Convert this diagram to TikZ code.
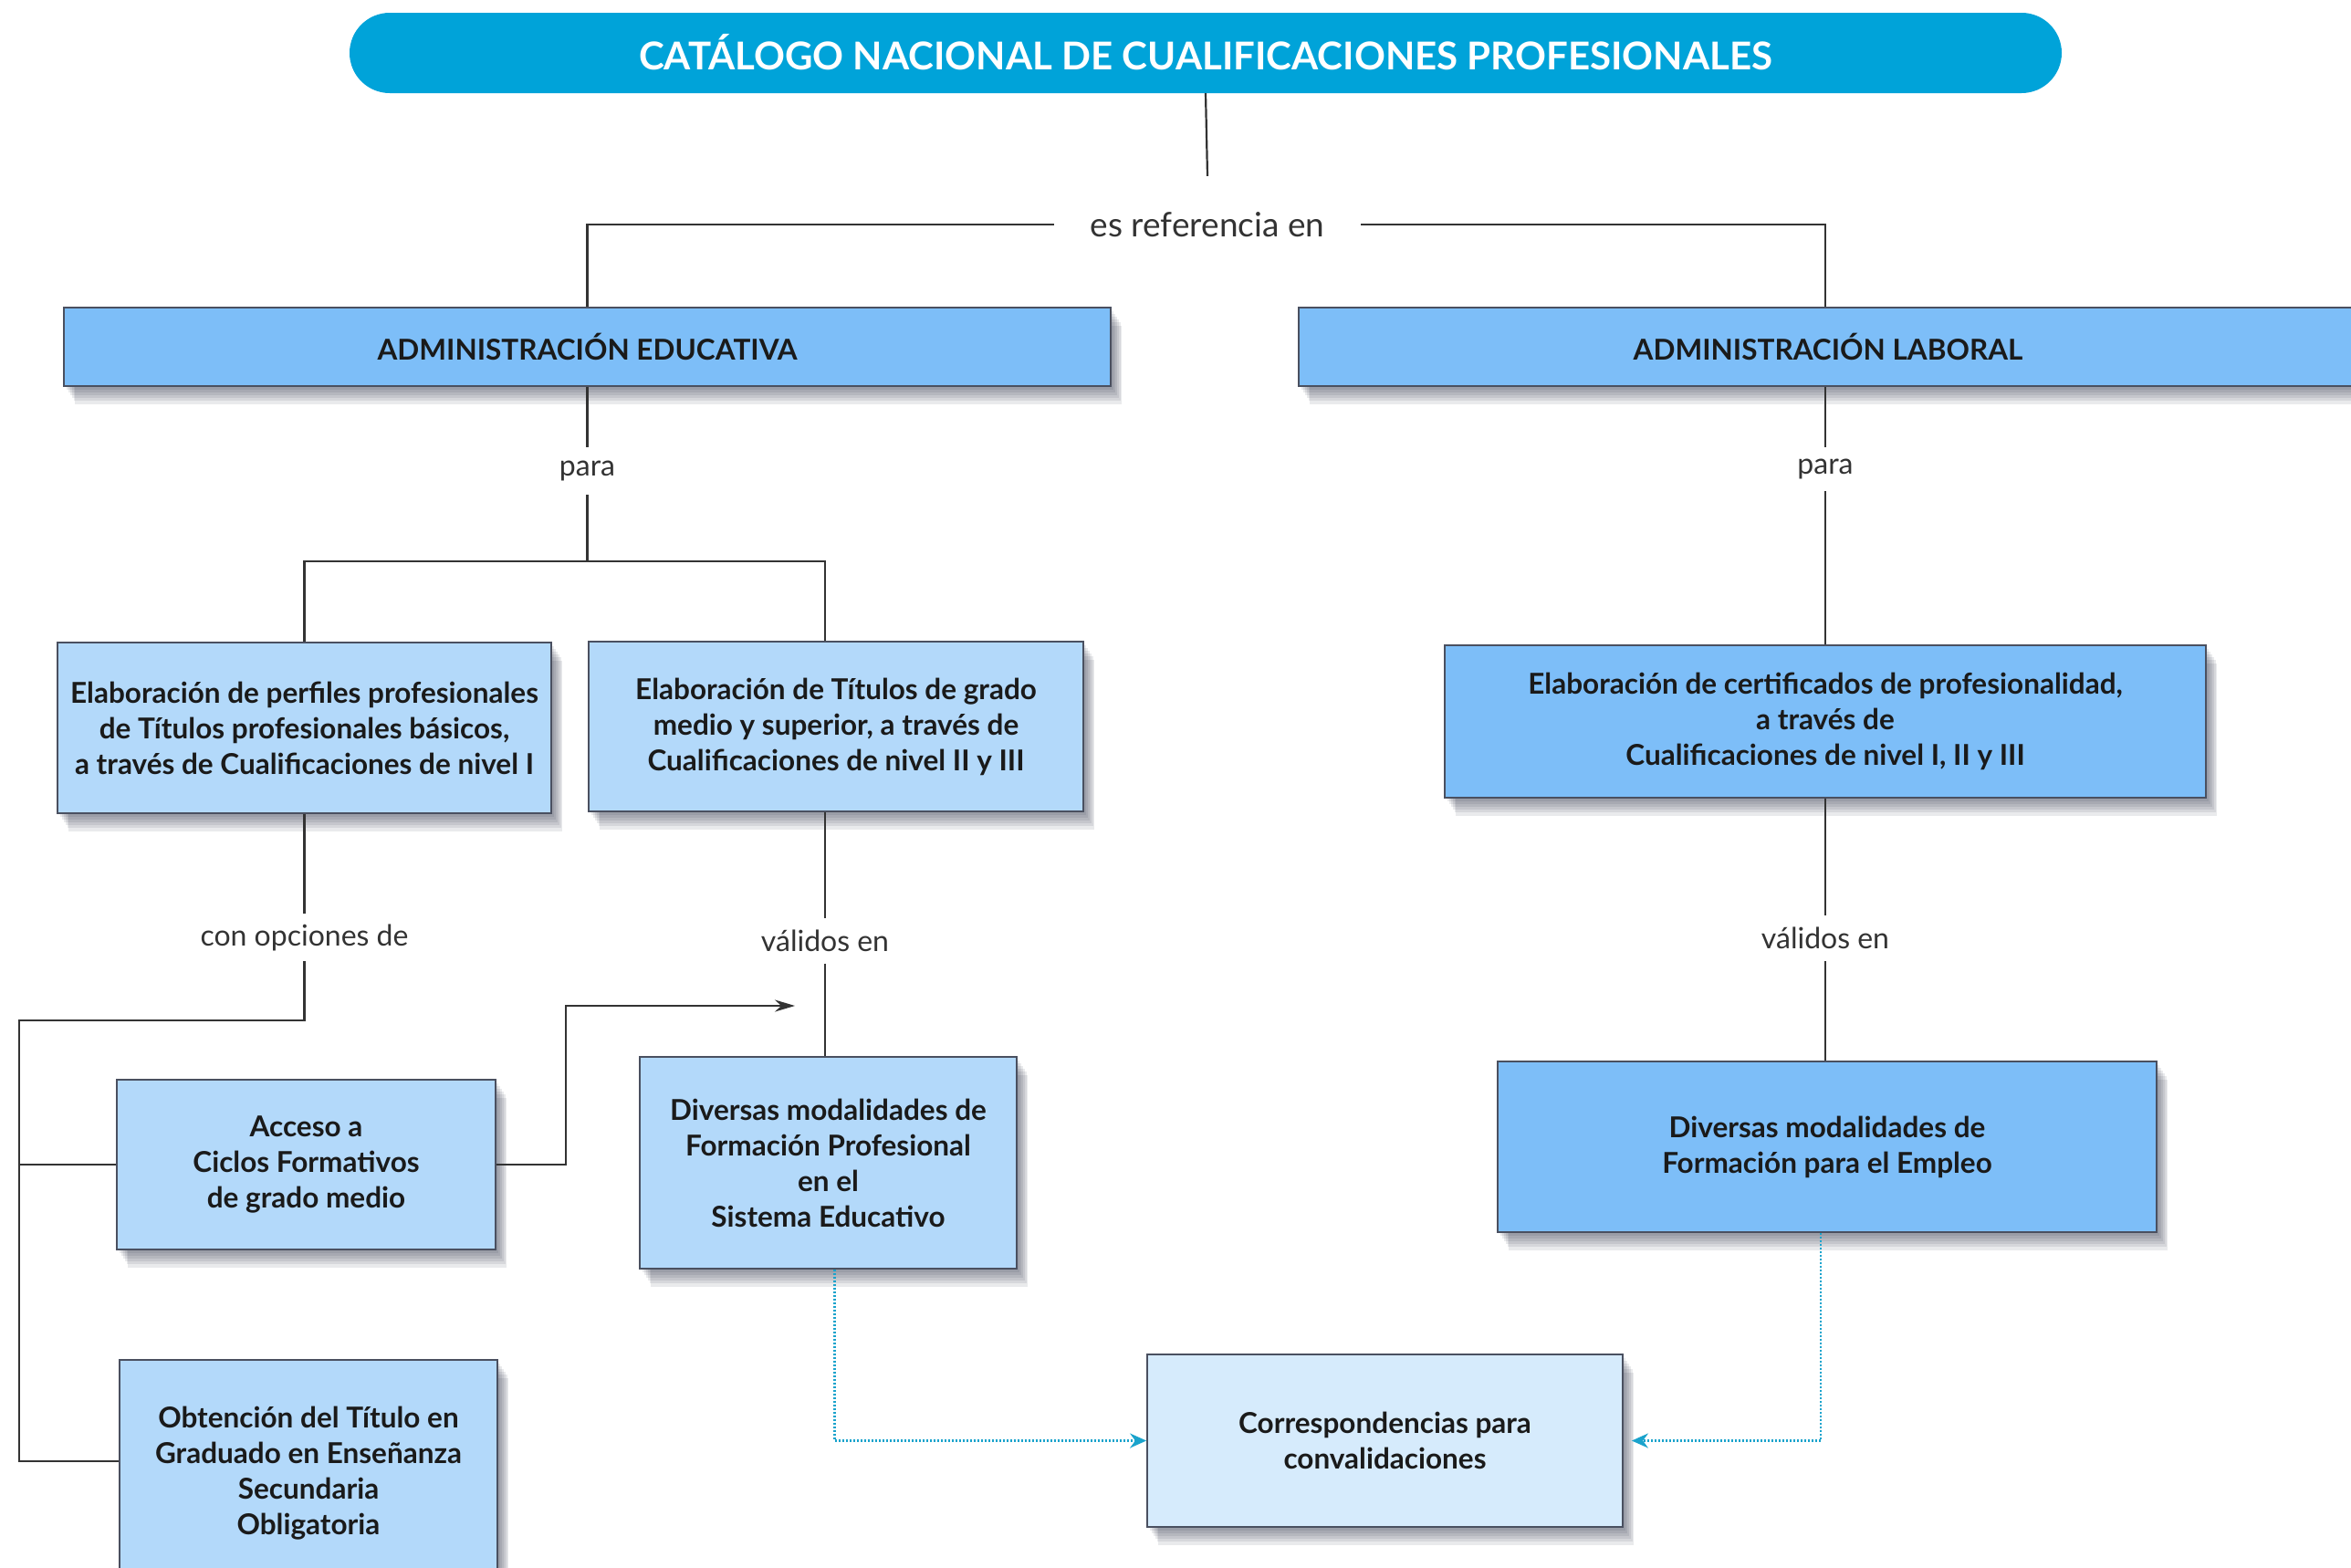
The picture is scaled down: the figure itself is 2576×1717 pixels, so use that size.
\documentclass[tikz,border=0pt]{standalone}
\usepackage{fontspec}
\setmainfont{Lato}
\usetikzlibrary{arrows.meta,calc}
\definecolor{pillc}{HTML}{00A3D9}
\definecolor{midblue}{HTML}{7DBEF8}
\definecolor{lightblue}{HTML}{B3D9FA}
\definecolor{paleblue}{HTML}{D6EBFC}
\definecolor{edgec}{HTML}{4A5060}
\definecolor{ink}{HTML}{1A1A1A}
\definecolor{linec}{HTML}{333333}
\definecolor{dotc}{HTML}{1AA3CC}
\definecolor{shadc}{HTML}{30344A}
\begin{document}
\begin{tikzpicture}[x=1pt,y=-1pt,
  sh/.style={preaction={fill=shadc, fill opacity=0.1, transform canvas={shift={(#1)}}}},
  softshadow/.style={sh={3pt,-4pt}, sh={5pt,-7pt}, sh={7pt,-10pt}, sh={9pt,-13pt}, sh={11pt,-16pt}, sh={12pt,-20pt}},
  box/.style={draw=edgec, line width=1.8pt, align=center, text=ink, inner sep=0pt,
    font=\fontsize{31.5}{39}\selectfont\bfseries, softshadow},
  hdr/.style={box, fill=midblue, font=\fontsize{31.5}{36}\selectfont\bfseries},
  lbl/.style={font=\fontsize{32}{36}\selectfont, text=linec, inner sep=0pt},
  conn/.style={draw=linec, line width=2.2pt},
  dotconn/.style={draw=dotc, line width=2.2pt, dash pattern=on 2pt off 2pt,
    -{Stealth[length=18pt,width=16pt]}}
]
\useasboundingbox (0,0) rectangle (2576,1717);
\clip (0,0) rectangle (2576,1717);
\fill[white] (0,0) rectangle (2576,1717);

% title
\node[fill=pillc, rounded corners=44pt, minimum width=1876pt, minimum height=88pt,
  text=white, font=\fontsize{42}{48}\selectfont\bfseries, inner sep=0pt]
  (title) at (1321,58) {\raisebox{3pt}{CATÁLOGO NACIONAL DE CUALIFICACIONES PROFESIONALES}};

\node[lbl, font=\fontsize{37}{40}\selectfont, minimum height=106pt, inner xsep=40pt] (ref) at (1323,246) {es referencia en};

\node[hdr, minimum width=1147pt, minimum height=86pt] (adminE) at (643.5,380) {ADMINISTRACIÓN EDUCATIVA};
\node[hdr, minimum width=1160pt, minimum height=86pt] (adminL) at (2003,380) {ADMINISTRACIÓN LABORAL};

\node[lbl, minimum height=52pt] (paraE) at (643.5,516) {para};
\node[lbl, minimum height=48pt] (paraL) at (2000,514) {para};

\node[box, fill=lightblue, minimum width=541pt, minimum height=187pt] (E1) at (333.5,797.5)
  {Elaboración de perfiles profesionales\\de Títulos profesionales básicos,\\a través de Cualificaciones de nivel I};
\node[box, fill=lightblue, minimum width=542pt, minimum height=186pt] (E2) at (916,796)
  {Elaboración de Títulos de grado\\medio y superior, a través de\\Cualificaciones de nivel II y III};
\node[box, fill=midblue, minimum width=834pt, minimum height=167pt] (L1) at (2000,790.5)
  {Elaboración de certificados de profesionalidad,\\a través de\\Cualificaciones de nivel I, II y III};

\node[lbl, minimum height=52pt] (optA) at (333.5,1027) {con opciones de};
\node[lbl, minimum height=49pt] (valE) at (904,1031) {válidos en};
\node[lbl, minimum height=50pt] (valL) at (2000,1028) {válidos en};

\node[box, fill=lightblue, minimum width=415pt, minimum height=186pt] (Acc) at (335.5,1276)
  {Acceso a\\Ciclos Formativos\\de grado medio};
\node[box, fill=lightblue, minimum width=413pt, minimum height=232pt] (FP) at (907.5,1274)
  {Diversas modalidades de\\Formación Profesional\\en el\\Sistema Educativo};
\node[box, fill=lightblue, minimum width=414pt, minimum height=248pt] (Obt) at (338,1614)
  {Obtención del Título en\\Graduado en Enseñanza\\Secundaria\\Obligatoria};
\node[box, fill=midblue, minimum width=722pt, minimum height=187pt] (FE) at (2002,1256.5)
  {Diversas modalidades de\\Formación para el Empleo};
\node[box, fill=paleblue, minimum width=521pt, minimum height=189pt] (Corr) at (1517.5,1578.5)
  {Correspondencias para\\convalidaciones};

% connectors
\draw[conn] (title.south) -- (ref.north);
\draw[conn] (ref.west) -| (adminE.north);
\draw[conn] (ref.east) -| ([xshift=-3pt]adminL.north);

\draw[conn] (adminE.south) -- (paraE.north);
\coordinate (jE) at (643.5,615);
\draw[conn] (paraE.south) -- (jE);
\draw[conn] (jE) -| (E1.north);
\draw[conn] (jE) -| ([xshift=-12pt]E2.north);

\draw[conn] (adminL.south -| paraL.north) -- (paraL.north);
\draw[conn] (paraL.south) -- (L1.north);

\draw[conn] (E1.south) -- (optA.north);
\coordinate (bendA) at (21,1118);
\draw[conn] (optA.south) |- (bendA) |- (Acc.west);
\draw[conn] (bendA) |- ([yshift=13pt]Obt.west);

\coordinate (bendB) at (620,1102);
\coordinate (arrEnd) at (871,1102);
\draw[conn, -{Stealth[length=22pt,width=13pt]}] (Acc.east) -| (bendB) -- (arrEnd);

\draw[conn] ([xshift=-12pt]E2.south) -- (valE.north);
\draw[conn] (valE.south) -- (valE.south |- FP.north);

\draw[conn] (L1.south) -- (valL.north);
\draw[conn] (valL.south) -- (valL.south |- FE.north);

\draw[dotconn] ([xshift=7pt]FP.south) |- (Corr.west);
\draw[dotconn] ([xshift=-7pt]FE.south) |- ([xshift=9pt]Corr.east);
\end{tikzpicture}
\end{document}
